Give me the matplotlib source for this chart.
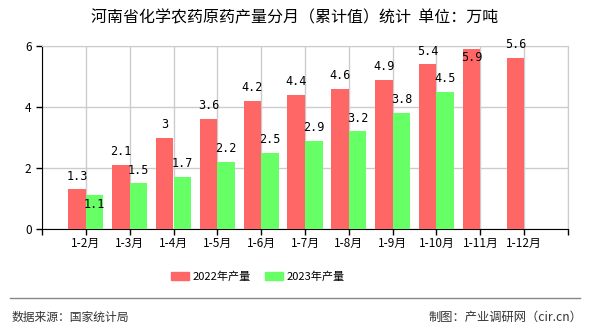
import numpy as np
import matplotlib
matplotlib.use("Agg")
import matplotlib.pyplot as plt
from matplotlib.patches import Patch

plt.rcParams['font.family'] = ['Noto Sans CJK SC', 'DejaVu Sans']

months = ['1-2月', '1-3月', '1-4月', '1-5月', '1-6月', '1-7月', '1-8月',
          '1-9月', '1-10月', '1-11月', '1-12月']
y2022 = [1.3, 2.1, 3, 3.6, 4.2, 4.4, 4.6, 4.9, 5.4, 5.9, 5.6]
y2023 = [1.1, 1.5, 1.7, 2.2, 2.5, 2.9, 3.2, 3.8, 4.5]

red = '#ff6666'
green = '#66ff66'

fig = plt.figure(figsize=(5.9, 3.3), dpi=100)
ax = fig.add_axes([42/590, 1-229/330, (568-42)/590, (229-46)/330])

x = np.arange(len(months))
w = 0.4
ax.bar(x - w/2, y2022, width=w, color=red, zorder=3)
ax.bar(x[:len(y2023)] + w/2, y2023, width=w, color=green, zorder=3)

def label(xs, vals, inside=()):
    for i, (xi, v) in enumerate(zip(xs, vals)):
        txt = f'{v:g}'
        if v + 0.3 > 6 or i in inside:
            ax.text(xi, v - 0.08, txt, ha='center', va='top', fontsize=8.5,
                    family='DejaVu Sans Mono', zorder=4)
        else:
            ax.text(xi, v + 0.22, txt, ha='center', va='bottom', fontsize=8.5,
                    family='DejaVu Sans Mono', zorder=4)

label(x - w/2, y2022)
# the first 2023 label sits inside its bar in the original (collision with 1.3)
label(x[:len(y2023)] + w/2, y2023, inside=(0,))

ax.set_xlim(-1, len(months))
ax.set_ylim(0, 6)
ax.set_yticks([0, 2, 4, 6])
ax.set_xticks(np.arange(-1, len(months) + 1))
ax.set_xticklabels([''] + months + [''], fontsize=8.5)
ax.tick_params(axis='y', labelsize=8.5, length=4, width=1, color='black')
ax.tick_params(axis='x', length=4, width=1, color='black', pad=2)
ax.grid(True, color='#cccccc', linewidth=1, zorder=0)
ax.spines['left'].set_color('black')
ax.spines['bottom'].set_color('black')
ax.spines['top'].set_color('#cccccc')
ax.spines['right'].set_color('#cccccc')

fig.text(0.5, 1-18/330, '河南省化学农药原药产量分月（累计值）统计  单位：万吨',
         ha='center', va='center', fontsize=11.5)

handles = [Patch(color=red, label='2022年产量'), Patch(color=green, label='2023年产量')]
fig.legend(handles=handles, loc='center', bbox_to_anchor=(258/590, 1-277/330), ncol=2,
           frameon=False, fontsize=8, handlelength=1.6, handleheight=0.7,
           columnspacing=1.3, handletextpad=0.3)

fig.add_artist(plt.Line2D([10/590, 580/590], [1-298/330, 1-298/330],
                          color='#888888', linewidth=1))
fig.text(12/590, 1-317/330, '数据来源：国家统计局', ha='left', va='center',
         fontsize=8.5, color='#333333')
fig.text(582/590, 1-317/330, '制图：产业调研网（cir.cn）', ha='right', va='center',
         fontsize=8.8, color='#333333')

fig.savefig('out.png', dpi=100)
